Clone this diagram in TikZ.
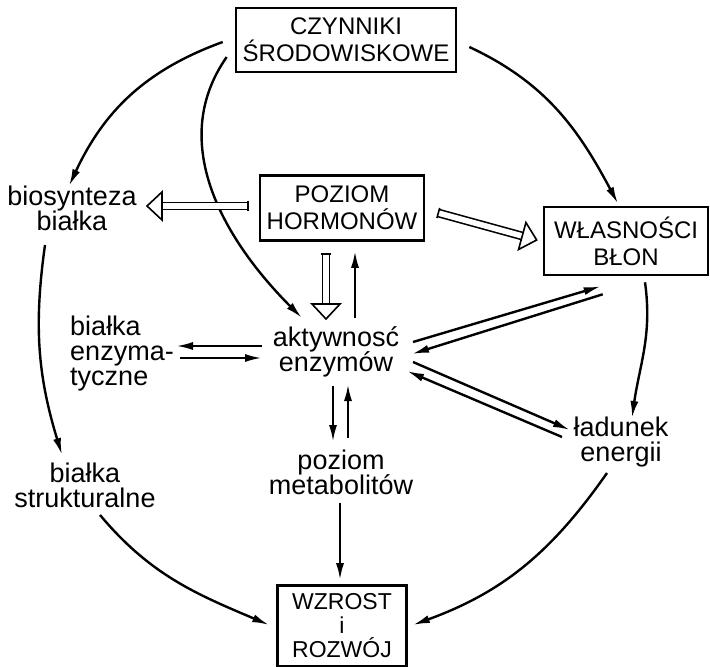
\documentclass[tikz,border=0pt]{standalone}
\usepackage{fontspec}
\setmainfont{Liberation Sans}
\usetikzlibrary{arrows.meta,calc,decorations.markings}
\newcommand{\lblfont}{\fontsize{13.5}{12.5}\selectfont\lineskiplimit=-10pt\relax}

\begin{document}
\begin{tikzpicture}[x=0.5pt, y=0.5pt,
    box/.style={draw, line width=1.3pt, align=center, inner sep=0pt, font=\fontsize{12}{13.5}\selectfont},
    lbl/.style={align=center, inner sep=1pt, font=\lblfont},
    arr/.style={line width=1.2pt, -{Latex[length=8.5pt,width=4pt]}},
    hollow/.style={
        postaction={draw, double, double distance=2.8pt, line width=0.8pt, shorten >=7.5pt},
        postaction={decorate, decoration={markings,
            mark=at position 0 with {\draw[line width=0.8pt] (0,-2.6pt) -- (0,2.6pt);},
            mark=at position 1 with {\draw[line width=0.8pt, fill=white] (-7.5pt,7pt) -- (0,0) -- (-7.5pt,-7pt) -- cycle;}}}}
]
\useasboundingbox (0,0) rectangle (710,-667);
% Boxes
\node[box, minimum width=110pt, minimum height=32pt] (czynniki) at (346,-40) {CZYNNIKI\\ŚRODOWISKOWE};
\node[box, minimum width=82pt, minimum height=32.5pt] (hormony) at (342,-208) {POZIOM\\HORMONÓW};
\node[box, minimum width=82pt, minimum height=34pt] (blony) at (626,-241) {WŁASNOŚCI\\BŁON};
\node[box, minimum width=64.5pt, minimum height=40.5pt, font=\fontsize{11.5}{12}\selectfont] (wzrost) at (342,-626) {WZROST\\i\\ROZWÓJ};
% Labels
\node[lbl] (biosynteza) at (72,-208) {biosynteza\\białka};
\node[lbl, align=left] (enzymatyczne) at (122,-354) {białka\\enzyma-\\tyczne};
\node[lbl] (aktywnosc) at (336,-352) {aktywnosć\\enzymów};
\node[lbl] (ladunek) at (621,-442) {ładunek\\energii};
\node[lbl] (strukturalne) at (85,-485) {białka\\strukturalne};
\node[lbl] (metabolity) at (341,-472) {poziom\\metabolitów};
% Outer ring
\draw[arr] ($(czynniki.west)+(-12,-2)$) to[out=200,in=65] ($(biosynteza)+(-3,22)$);
\draw[arr] ($(czynniki.west)+(-8,-17)$) to[out=235,in=135] ($(aktywnosc)+(-34,34)$);
\draw[arr] ($(czynniki.east)+(12,-7)$) to[out=-25,in=118] ($(blony.north)+(-8,2)$);
\draw[arr] ($(biosynteza)+(-27,-37)$) to[out=262,in=107] ($(strukturalne)+(-23,30)$);
\draw[arr] ($(strukturalne)+(15,-30)$) to[out=-50,in=157] ($(wzrost.west)+(-7,1)$);
\draw[arr] ($(blony.south)+(19,-6)$) to[out=-82,in=82] ($(ladunek)+(11,24)$);
\draw[arr] ($(ladunek)+(-14,-31)$) to[out=235,in=20] ($(wzrost.east)+(5,1)$);
% Hormones
\path[hollow] ($(hormony.west)+(-11,2)$) -- ($(biosynteza)+(75,2)$);
\path[hollow] ($(hormony.east)+(13,-5)$) -- ($(blony.west)+(-6,1)$);
\path[hollow] ($(hormony.south)+(-16,-12)$) -- ($(aktywnosc)+(-10,33)$);
\draw[arr] ($(aktywnosc)+(19,34)$) -- ($(hormony.south)+(13,-9)$);
% Enzyme activity
\draw[arr] ($(aktywnosc)+(-74,6)$) -- ($(enzymatyczne)+(54,8)$);
\draw[arr] ($(enzymatyczne)+(58,-4)$) -- ($(aktywnosc)+(-74,-6)$);
\draw[arr] ($(aktywnosc)+(77,10)$) -- ($(blony.south west)+(58,-10)$);
\draw[arr] ($(blony.south west)+(60,-18)$) -- ($(aktywnosc)+(76,-2)$);
\draw[arr] ($(aktywnosc)+(77,-10)$) -- ($(ladunek)+(-51,12)$);
\draw[arr] ($(ladunek)+(-59,5)$) -- ($(aktywnosc)+(71,-19)$);
\draw[arr] ($(aktywnosc)+(-3,-34)$) -- ($(metabolity)+(-8,30)$);
\draw[arr] ($(metabolity)+(7,34)$) -- ($(aktywnosc)+(12,-32)$);
\draw[arr] ($(metabolity)+(-1,-31)$) -- ($(wzrost.north)+(-2,4)$);
\end{tikzpicture}
\end{document}
